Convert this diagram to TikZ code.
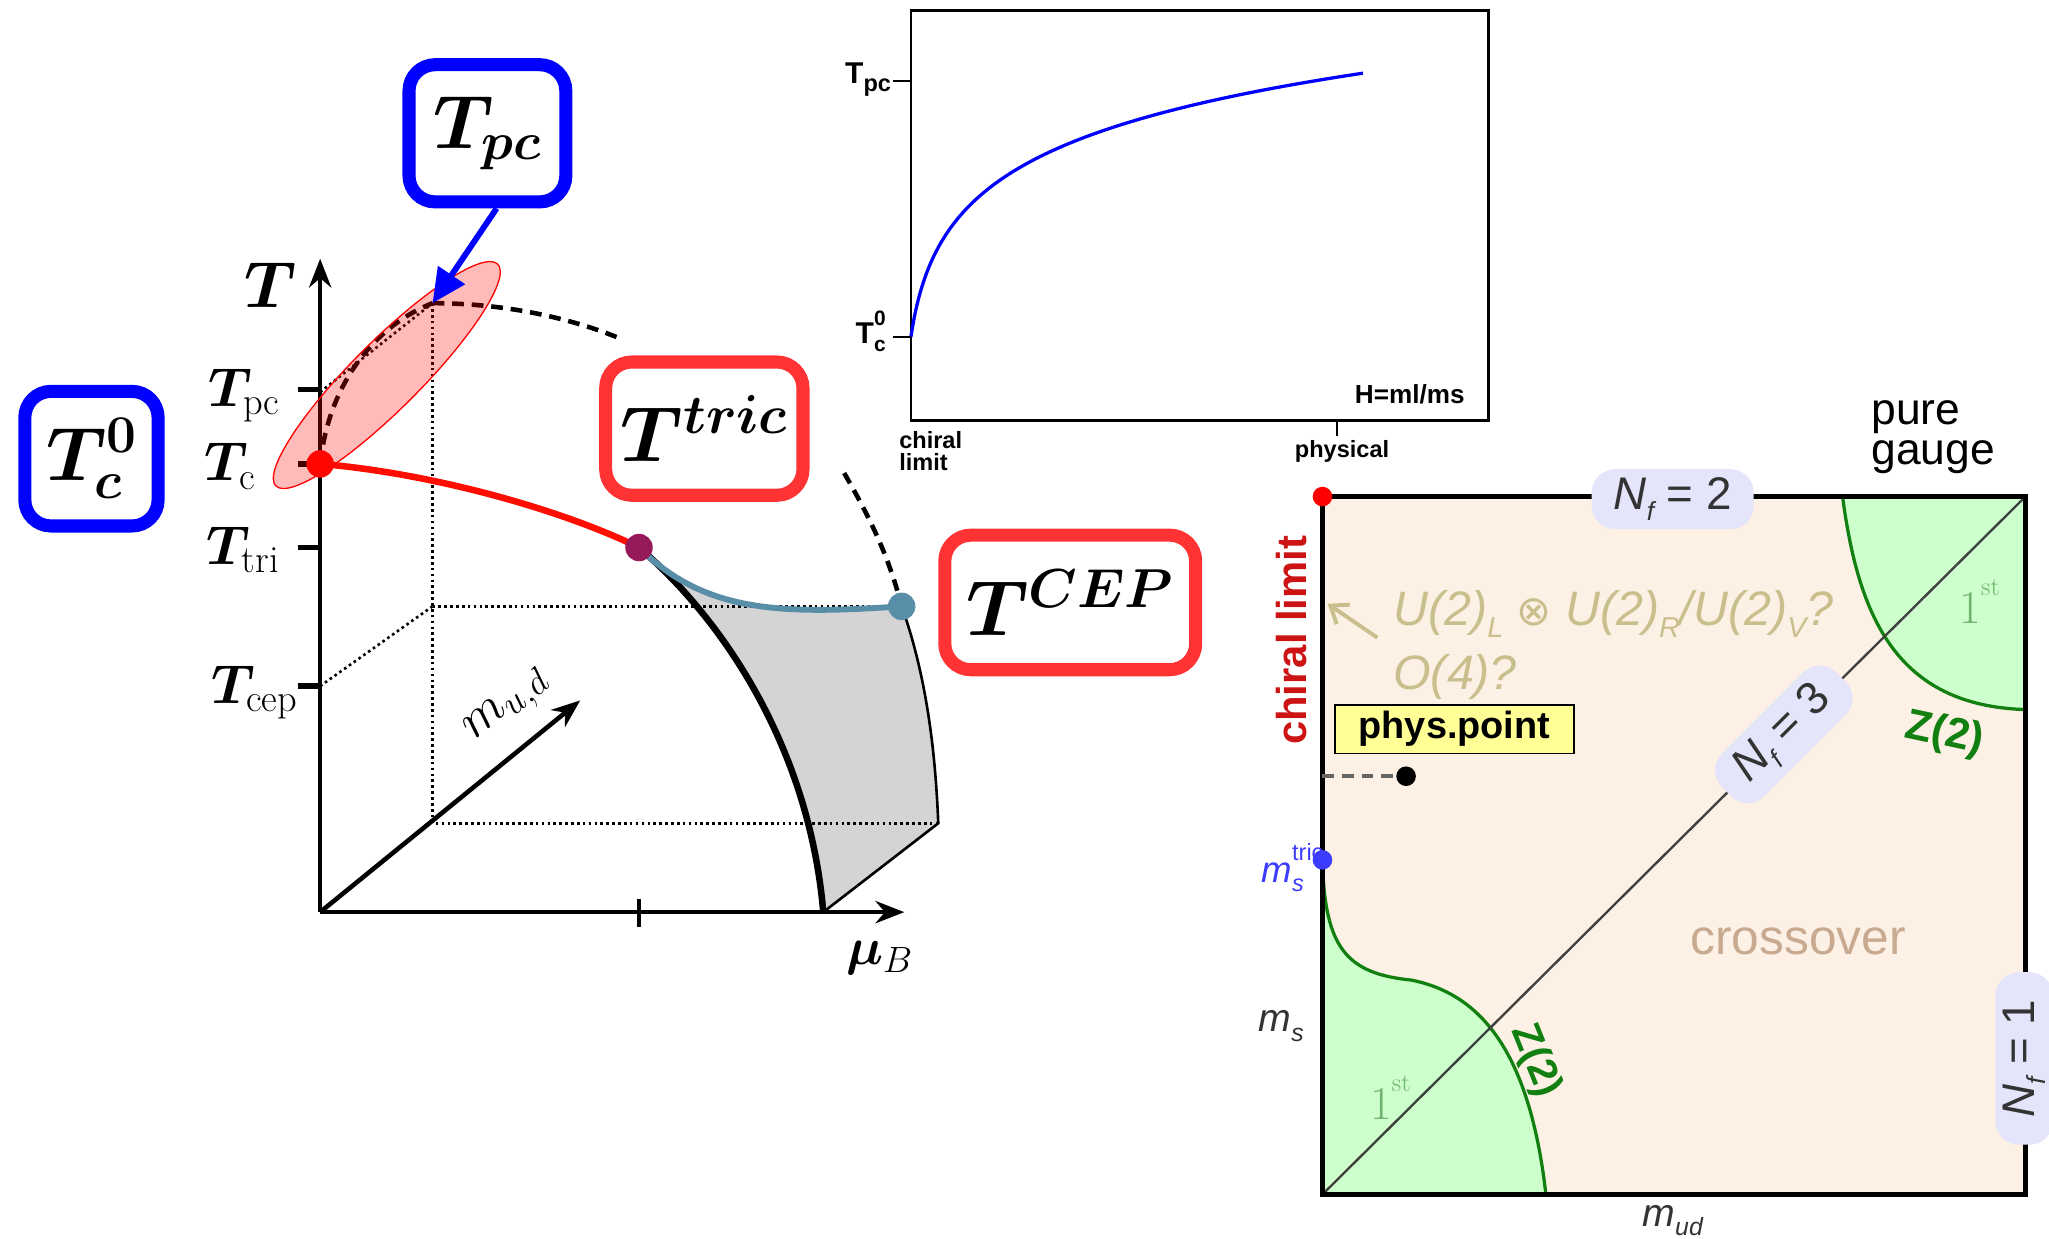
\RequirePackage{fix-cm}
\documentclass[tikz,border=0pt]{standalone}
\usepackage{amsmath}
\usepackage{bm}
\usepackage{fontspec}
\setsansfont{Liberation Sans}
\newfontfamily\dejavu{DejaVu Sans}
\usetikzlibrary{arrows.meta}
\definecolor{tred}{RGB}{255,51,51}
\definecolor{tblue}{RGB}{0,0,255}
\definecolor{steel}{RGB}{88,142,168}
\definecolor{plum}{RGB}{150,25,90}
\definecolor{peach}{RGB}{253,240,228}
\definecolor{lgreen}{RGB}{204,255,204}
\definecolor{dgreen}{RGB}{17,128,17}
\definecolor{lavbg}{RGB}{228,228,250}
\definecolor{olivetxt}{RGB}{200,192,140}
\definecolor{crosstan}{RGB}{200,170,145}
\definecolor{chred}{RGB}{204,20,20}
\definecolor{msblue}{RGB}{60,60,255}
\definecolor{yel}{RGB}{255,255,150}
\definecolor{gfirst}{RGB}{110,180,110}
\newcommand\setfs[1]{\fontsize{#1}{#1}\selectfont}
\newcommand\lowtxt[2]{\raisebox{-0.25em}{\setfs{#1}#2}}
\newcommand\hightxt[2]{\raisebox{0.6em}{\setfs{#1}#2}}
\begin{document}
\begin{tikzpicture}[x=1pt,y=-1pt,
  lbox/.style={draw, rounded corners=20pt, line width=10pt, fill=white, inner sep=0pt},
  dotln/.style={line width=2pt, dash pattern=on 2pt off 2.5pt},
  dashln/.style={line width=3.5pt, dash pattern=on 9pt off 6pt},
  axisln/.style={line width=3.5pt, -{Stealth[length=22pt,width=17pt]}},
  tickln/.style={line width=4pt},
  lavnode/.style={fill=lavbg, rounded corners=18pt, inner sep=0pt, text=black!80, font=\sffamily\setfs{35}},
  dotnode/.style={circle, inner sep=0pt, minimum size=#1},
  olivefont/.style={text=olivetxt, font=\sffamily\itshape\setfs{37}},
]
\useasboundingbox (0,0) rectangle (1568,948);

% ---------------- left 3D diagram ----------------
\coordinate (O) at (245,698);
\coordinate (Ttop) at (245,198);
\coordinate (Mend) at (692,698);
\coordinate (Uend) at (444,536);
\coordinate (Pc) at (245,355);
\coordinate (Ptri) at (489,419);
\coordinate (Pcep) at (690,464);
\coordinate (Ptop) at (331,232);
\coordinate (Bfoot) at (630,698);
\coordinate (Rfoot) at (718,630);

% grey surface
\fill[black!17] (Ptri) .. controls (540,470) and (600,470) .. (Pcep)
  .. controls (710,520) and (716,580) .. (Rfoot) -- (Bfoot)
  .. controls (620,580) and (560,480) .. (Ptri) -- cycle;

% dotted guide lines
\draw[dotln] (Ptop) -- (331,630) -- (Rfoot);
\draw[dotln] (331,464) -- (Pcep);
\draw[dotln] (245,525) -- (331,464);
\draw[dotln] (245,300) -- (Ptop);

% axes
\draw[axisln] (O) -- (Ttop);
\draw[axisln] (O) -- (Mend);
\draw[axisln] (O) -- (Uend);
\draw[tickln] (228,298) -- (245,298);
\draw[tickln] (228,355) -- (245,355);
\draw[tickln] (228,419) -- (245,419);
\draw[tickln] (228,525) -- (245,525);
\draw[line width=3pt] (489,688) -- (489,709);

% curves
\draw[line width=5pt, black] (Ptri) .. controls (560,480) and (620,580) .. (Bfoot);
\draw[line width=4.5pt, steel] (Ptri) .. controls (540,470) and (600,470) .. (Pcep);
\draw[line width=2pt] (Pcep) .. controls (710,520) and (716,580) .. (Rfoot) -- (Bfoot);
\draw[line width=5pt, red!90!orange] (Pc) .. controls (330,362) and (430,390) .. (Ptri);

% dashed curves
\draw[dashln] (Pc) .. controls (252,290) and (290,248) .. (Ptop);
\draw[dashln] (Ptop) .. controls (390,232) and (440,245) .. (472,258);
\draw[dashln] (646,362) .. controls (665,395) and (680,425) .. (Pcep);

% pink ellipse
\draw[red, line width=1pt, fill=red, fill opacity=0.27, rotate around={45:(296,287)}] (296,287) ellipse [x radius=120, y radius=26];

% dots
\node[dotnode=21pt, fill=red!95!orange] (dc) at (Pc) {};
\node[dotnode=21pt, fill=plum] (dtri) at (Ptri) {};
\node[dotnode=21pt, fill=steel] (dcep) at (Pcep) {};

% axis labels
\node[anchor=center] (lT) at (207,218) {\setfs{50}$\bm{T}$};
\node[anchor=base east, inner sep=0pt] (lTpc) at (214,311) {\setfs{42}$\bm{T}_{\mathrm{pc}}$};
\node[anchor=base east, inner sep=0pt] (lTc) at (196,368) {\setfs{42}$\bm{T}_{\mathrm{c}}$};
\node[anchor=base east, inner sep=0pt] (lTtri) at (214,432) {\setfs{42}$\bm{T}_{\mathrm{tri}}$};
\node[anchor=base east, inner sep=0pt] (lTcep) at (228,538) {\setfs{42}$\bm{T}_{\mathrm{cep}}$};
\node[inner sep=0pt] (lmu) at (673,733) {\setfs{40}$\bm{\mu}_B$};
\node[inner sep=0pt, rotate=40] (lm) at (389,541) {\setfs{40}$m_{u,d}$};

% labelled boxes
\node[lbox, draw=tblue, minimum width=120pt, minimum height=105pt] (tpc) at (373,102) {\setfs{58}$\bm{T_{pc}}$};
\node[lbox, draw=tblue, minimum width=102pt, minimum height=103pt] (tc0) at (70,351) {\setfs{58}$\bm{T_c^0}$};
\node[lbox, draw=tred, minimum width=151pt, minimum height=102pt] (ttric) at (539,328) {\setfs{60}$\bm{T^{tric}}$};
\node[lbox, draw=tred, minimum width=192pt, minimum height=103pt] (tcep) at (819,461) {\setfs{60}$\bm{T^{CEP}}$};
\draw[tblue, line width=4.5pt, -{Triangle[length=26pt,width=24pt]}] ([xshift=7pt]tpc.south) -- (Ptop);

% ---------------- middle plot ----------------
\draw[line width=2pt] (697,8) rectangle (1139,322);
\draw[blue, line width=2.5pt, domain=0:346, samples=120, smooth] plot ({697+\x}, {258-53.3*ln(1+\x/8)});
\draw[line width=2pt] (683,62) -- (697,62);
\draw[line width=2pt] (683,258) -- (697,258);
\draw[line width=2pt] (1023,322) -- (1023,334);
\node[anchor=base east, inner sep=0pt, font=\sffamily\bfseries\setfs{23}] (mTpc) at (682,64) {T\lowtxt{18}{pc}};
\node[anchor=base east, inner sep=0pt, font=\sffamily\bfseries\setfs{23}] (mTc) at (678,263) {T\rlap{\hightxt{16}{0}}\lowtxt{16}{c}};
\node[anchor=base east, inner sep=0pt, font=\sffamily\bfseries\setfs{20}] (mH) at (1121,309) {H=ml/ms};
\node[anchor=north west, inner sep=0pt, align=left, font=\sffamily\bfseries\setfs{18}] (mchi) at (688,330) {chiral\\[-1pt]limit};
\node[anchor=north, inner sep=0pt, font=\sffamily\bfseries\setfs{18}] (mphys) at (1027,337) {physical};

% ---------------- right plot ----------------
\fill[peach] (1012,380) rectangle (1550,914);
\fill[lgreen] (1410,380) .. controls (1422,470) and (1450,540) .. (1550,543) -- (1550,380) -- cycle;
\fill[lgreen] (1012,660) .. controls (1014,725) and (1030,745) .. (1080,750)
  .. controls (1130,760) and (1170,800) .. (1183,914) -- (1012,914) -- cycle;
\draw[dgreen, line width=2.5pt] (1410,380) .. controls (1422,470) and (1450,540) .. (1550,543);
\draw[dgreen, line width=2.5pt] (1012,660) .. controls (1014,725) and (1030,745) .. (1080,750)
  .. controls (1130,760) and (1170,800) .. (1183,914);
\draw[black!75, line width=1.8pt] (1012,914) -- (1550,380);
\draw[line width=3.5pt] (1012,380) rectangle (1550,914);

\node[text=gfirst, font=\setfs{36}] (f1) at (1515,460) {1\hightxt{20}{st}};
\node[text=gfirst, font=\setfs{36}] (f2) at (1064,840) {1\hightxt{20}{st}};
\node[text=dgreen, font=\sffamily\bfseries\setfs{33}, rotate=-12] (z1) at (1488,562) {Z(2)};
\node[text=dgreen, font=\sffamily\bfseries\setfs{31}, rotate=-68] (z2) at (1175,812) {Z(2)};

\node[lavnode, minimum width=124pt, minimum height=46pt] (nf2) at (1280,382) {\itshape N\lowtxt{20}{f}\upshape{} = 2};
\node[lavnode, minimum width=124pt, minimum height=46pt, rotate=45] (nf3) at (1365,562) {\itshape N\lowtxt{20}{f}\upshape{} = 3};
\node[lavnode, minimum width=132pt, minimum height=44pt, rotate=90] (nf1) at (1549,810) {\itshape N\lowtxt{20}{f}\upshape{} = 1};

\node[anchor=north west, inner sep=0pt, align=left, font=\sffamily\setfs{34}] (pg) at (1432,306) {pure\\[-3pt]gauge};
\node[rotate=90, text=chred, font=\sffamily\bfseries\setfs{32}] (chl) at (988,490) {chiral limit};

\node[anchor=west, inner sep=0pt, olivefont] (sym) at (1066,470) {U(2)\lowtxt{22}{L} {\dejavu\upshape\setfs{32}⊗} U(2)\lowtxt{22}{R}/U(2)\lowtxt{22}{V}?};
\node[anchor=west, inner sep=0pt, olivefont] (o4) at (1066,518) {O(4)?};
\coordinate (arrs) at (1054,488);
\coordinate (arre) at (1016,462);
\draw[olivetxt, line width=3pt, -{Straight Barb[length=12pt,width=18pt]}] (arrs) -- (arre);

\node[draw, fill=yel, line width=1.2pt, minimum width=183pt, minimum height=37pt, inner sep=0pt, font=\sffamily\bfseries\setfs{29}] (pp) at (1113,558) {phys.point};
\node[dotnode=15pt, fill=black] (ppd) at (1076,594) {};
\coordinate (ppl) at (1012,594);
\draw[black!60, line width=3pt, dash pattern=on 9pt off 6pt] (ppl) -- (ppd);

\node[dotnode=15pt, fill=red] (rd) at (1012,380) {};
\node[dotnode=15pt, fill=msblue] (bd) at (1012,658) {};

\node[anchor=east, inner sep=0pt, text=msblue, font=\sffamily\itshape\setfs{28}] (mst) at (998,664) {m\rlap{\hightxt{18}{\upshape tric}}\lowtxt{18}{s}};
\node[anchor=east, inner sep=0pt, text=black!80, font=\sffamily\itshape\setfs{30}] (ms) at (998,785) {m\lowtxt{19}{s}};
\node[inner sep=0pt, text=black!80, font=\sffamily\itshape\setfs{30}] (mud) at (1280,934) {m\lowtxt{19}{ud}};
\node[text=crosstan, font=\sffamily\setfs{38}] (cross) at (1376,720) {crossover};
\end{tikzpicture}
\end{document}
